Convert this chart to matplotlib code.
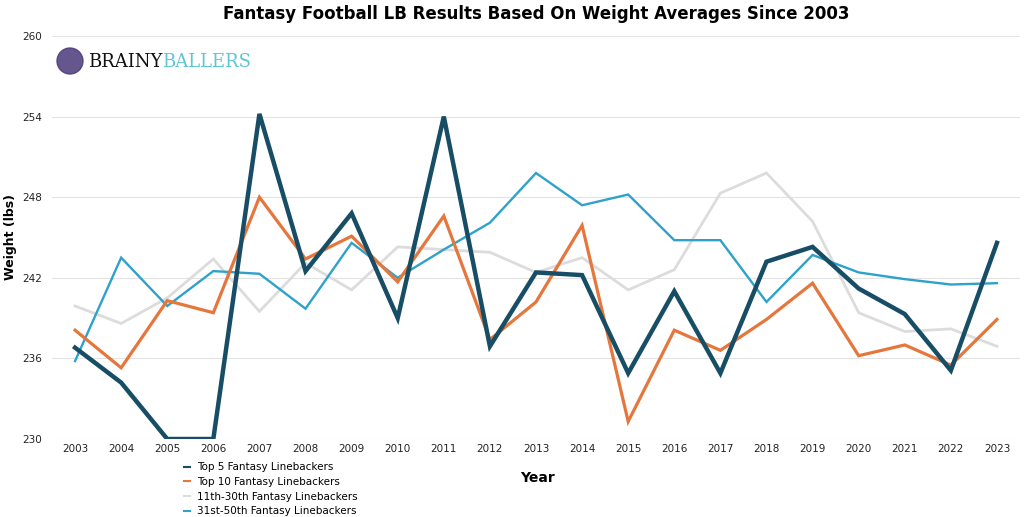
import matplotlib
matplotlib.use("Agg")
import matplotlib.pyplot as plt

years = list(range(2003, 2024))
top5 = [236.8, 234.2, 230.0, 230.0, 254.2, 242.5, 246.8, 239.0, 254.0, 236.9, 242.4,
        242.2, 234.9, 241.0, 234.9, 243.2, 244.3, 241.2, 239.3, 235.1, 244.6]
top10 = [238.1, 235.3, 240.3, 239.4, 248.0, 243.4, 245.1, 241.7, 246.6, 237.4, 240.2,
         245.9, 231.3, 238.1, 236.6, 238.9, 241.6, 236.2, 237.0, 235.5, 238.9]
r11_30 = [239.9, 238.6, 240.5, 243.4, 239.5, 243.1, 241.1, 244.3, 244.1, 243.9, 242.4,
          243.5, 241.1, 242.6, 248.3, 249.8, 246.2, 239.4, 238.0, 238.2, 236.9]
r31_50 = [235.8, 243.5, 239.9, 242.5, 242.3, 239.7, 244.6, 242.0, 244.1, 246.1, 249.8,
          247.4, 248.2, 244.8, 244.8, 240.2, 243.7, 242.4, 241.9, 241.5, 241.6]
y_ticks = [230, 236, 242, 248, 254, 260]

series = [
    ("Top 5 Fantasy Linebackers", top5, "#174e66", 3.2, 4),
    ("Top 10 Fantasy Linebackers", top10, "#e5763c", 2.3, 3),
    ("11th-30th Fantasy Linebackers", r11_30, "#dcdcdc", 2.0, 1),
    ("31st-50th Fantasy Linebackers", r31_50, "#2ea2cb", 1.7, 2),
]

fig = plt.figure(figsize=(10.24, 5.17), dpi=100)
ax = fig.add_axes([52/1024, 1 - 439/517, (1020-52)/1024, (439-36)/517])

handles = []
for label, vals, color, lw, z in series:
    h, = ax.plot(years, vals, color=color, lw=lw, zorder=z, label=label,
                 solid_joinstyle="miter")
    handles.append(h)

ax.set_xlim(2002.5, 2023.5)
ax.set_ylim(230, 260)
ax.set_yticks(y_ticks)
ax.set_xticks(years)
ax.tick_params(axis="both", length=0, labelsize=7.5, colors="#222222")
ax.tick_params(axis="y", pad=7)
ax.grid(axis="y", color="#e3e3e3", lw=0.8)
ax.set_axisbelow(True)
for s in ["left", "right", "top", "bottom"]:
    ax.spines[s].set_visible(False)

ax.set_xlabel("Year", fontsize=10, fontweight="bold")
ax.xaxis.set_label_coords((537-52)/(1020-52), -(471-439)/(439-36))
ax.set_ylabel("Weight (lbs)", fontsize=9, fontweight="bold")
ax.yaxis.set_label_coords(-(52-17)/(1020-52), 0.5)

fig.text(536/1024, 1 - 14/517, "Fantasy Football LB Results Based On Weight Averages Since 2003",
         ha="center", va="center", fontsize=12, fontweight="bold")

# logo text
t1 = fig.text(88/1024, 1 - 62/517, "BRAINY", family="DejaVu Serif", fontsize=13,
              color="#111111", va="center", ha="left")
fig.canvas.draw()
bb = t1.get_window_extent()
fig.text(bb.x1 / fig.bbox.width, 1 - 62/517, "BALLERS", family="DejaVu Serif", fontsize=13,
         color="#5cc6d6", va="center", ha="left")
fig.patches.append(matplotlib.patches.Ellipse((70/1024, 1 - 61/517), 26/1024, 26/517,
                   transform=fig.transFigure, color="#4a3a7a", alpha=0.85))

leg = fig.legend(handles=handles, loc="upper left",
                 bbox_to_anchor=(180/1024, 1 - 458/517), frameon=False,
                 fontsize=7.5, handlelength=0.6, handletextpad=0.6,
                 labelspacing=0.45, borderaxespad=0)
for lh in leg.get_lines():
    lh.set_linewidth(1.5)

fig.savefig("out.png", dpi=100)
